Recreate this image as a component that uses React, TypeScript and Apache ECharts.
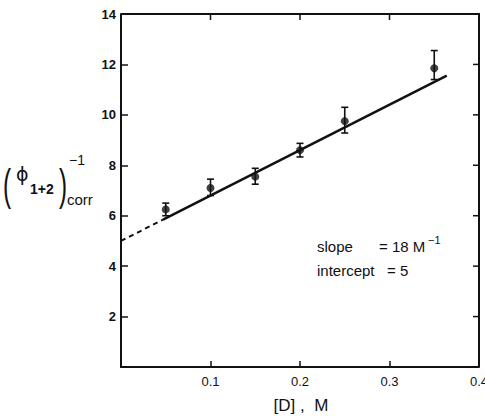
import React, { useEffect, useRef } from "react";
import * as echarts from "echarts";

// Data
const concD = [0.05, 0.1, 0.15, 0.2, 0.25, 0.35];
const phiInv = [6.25, 7.1, 7.55, 8.6, 9.75, 11.85];
const errLow = [6.0, 6.8, 7.25, 8.33, 9.28, 11.4];
const errHigh = [6.5, 7.45, 7.88, 8.87, 10.3, 12.55];

const slope = 18;
const intercept = 5;
const fitDashedX = [0, 0.047];
const fitSolidX = [0.047, 0.364];

const xTicks = [0, 0.1, 0.2, 0.3, 0.4];
const yTicks = [0, 2, 4, 6, 8, 10, 12, 14];

const FONT = "Liberation Sans";

const GRID = { left: 121, right: 6, top: 14, bottom: 51 };
const W = 485;
const H = 418;

export default function App() {
  const ref = useRef<HTMLDivElement>(null);
  useEffect(() => {
    document.body.style.margin = "0";
    const chart = echarts.init(ref.current!, null, { renderer: "svg" });
    const fit = (xs: number[]) => xs.map((x) => [x, intercept + slope * x]);
    const xMin = xTicks[0];
    const xMax = xTicks[xTicks.length - 1];
    const yMin = yTicks[0];
    const yMax = yTicks[yTicks.length - 1];
    const tickStyle = { stroke: "#111", lineWidth: 1.5 };
    const option: any = {
      animation: false,
      grid: {
        ...GRID,
        containLabel: false,
        outerBoundsMode: "none",
      },
      xAxis: {
        type: "value",
        min: xMin,
        max: xMax,
        interval: 0.1,
        position: "bottom",
        axisLine: { show: true, onZero: false, lineStyle: { color: "#111", width: 2 } },
        axisTick: { show: true, inside: true, length: 6, lineStyle: { color: "#111", width: 1.5 } },
        splitLine: { show: false },
        axisLabel: {
          color: "#111",
          fontFamily: FONT,
          fontSize: 13,
          margin: 8,
          formatter: (v: number) => (v === 0 ? "" : v.toFixed(1)),
        },
      },
      yAxis: {
        type: "value",
        min: yMin,
        max: yMax,
        interval: 2,
        position: "left",
        axisLine: { show: true, onZero: false, lineStyle: { color: "#111", width: 2 } },
        axisTick: { show: true, inside: true, length: 7, lineStyle: { color: "#111", width: 1.5 } },
        splitLine: { show: false },
        axisLabel: {
          color: "#111",
          fontFamily: FONT,
          fontWeight: "bold",
          fontSize: 13,
          margin: 5,
          formatter: (v: number) => (v === 0 ? "" : String(v)),
        },
      },
      series: [
        {
          type: "line",
          data: fit(fitDashedX),
          showSymbol: false,
          symbol: "none",
          lineStyle: { color: "#111", width: 2, type: [5, 4] },
        },
        {
          type: "line",
          data: fit(fitSolidX),
          showSymbol: false,
          symbol: "none",
          lineStyle: { color: "#111", width: 2.5 },
        },
        // ticks on the top and right sides of the frame (inward)
        {
          type: "custom",
          clip: false,
          silent: true,
          data: [[0.2, 7]],
          encode: { x: 0, y: 1 },
          renderItem: (params: any, api: any) => {
            const children: any[] = [];
            xTicks.slice(1, -1).forEach((x) => {
              const p = api.coord([x, yMax]);
              children.push({ type: "line", shape: { x1: p[0], y1: p[1], x2: p[0], y2: p[1] + 6 }, style: tickStyle });
            });
            yTicks.slice(1, -1).forEach((y) => {
              const p = api.coord([xMax, y]);
              children.push({ type: "line", shape: { x1: p[0] - 6, y1: p[1], x2: p[0], y2: p[1] }, style: tickStyle });
            });
            return { type: "group", children };
          },
          z: 5,
        },
        // error bars
        {
          type: "custom",
          data: concD.map((x, i) => [x, errLow[i], errHigh[i]]),
          encode: { x: 0, y: [1, 2] },
          renderItem: (params: any, api: any) => {
            const x = api.value(0);
            const lo = api.coord([x, api.value(1)]);
            const hi = api.coord([x, api.value(2)]);
            const w = 3.5;
            const st = { stroke: "#111", lineWidth: 1.6 };
            return {
              type: "group",
              children: [
                { type: "line", shape: { x1: lo[0], y1: lo[1], x2: hi[0], y2: hi[1] }, style: st },
                { type: "line", shape: { x1: lo[0] - w, y1: lo[1], x2: lo[0] + w, y2: lo[1] }, style: st },
                { type: "line", shape: { x1: hi[0] - w, y1: hi[1], x2: hi[0] + w, y2: hi[1] }, style: st },
              ],
            };
          },
          z: 3,
        },
        {
          type: "scatter",
          data: concD.map((x, i) => [x, phiInv[i]]),
          symbol: "circle",
          symbolSize: 8,
          itemStyle: { color: "#111" },
          z: 4,
        },
      ],
      graphic: [
        // plot frame (top and right sides)
        {
          type: "polyline",
          z: 100,
          shape: { points: [[GRID.left, GRID.top], [W - GRID.right, GRID.top], [W - GRID.right, H - GRID.bottom]] },
          style: { stroke: "#111", lineWidth: 2, fill: "none" },
        },
        // y-axis title: (ϕ1+2)corr^-1
        { type: "text", x: 3, y: 185, scaleX: 0.55, style: { text: "(", font: `44px '${FONT}'`, fill: "#111", verticalAlign: "middle" } },
        { type: "text", x: 16, y: 174, style: { text: "ϕ", font: `19px 'DejaVu Sans'`, fill: "#111", verticalAlign: "middle" } },
        { type: "text", x: 30, y: 189, style: { text: "1+2", font: `bold 14px '${FONT}'`, fill: "#111", verticalAlign: "middle" } },
        { type: "text", x: 59, y: 185, scaleX: 0.55, style: { text: ")", font: `44px '${FONT}'`, fill: "#111", verticalAlign: "middle" } },
        { type: "text", x: 67, y: 199, style: { text: "corr", font: `15px '${FONT}'`, fill: "#111", verticalAlign: "middle" } },
        { type: "text", x: 69, y: 160, style: { text: "−1", font: `14px '${FONT}'`, fill: "#111", verticalAlign: "middle" } },
        // x-axis title
        { type: "text", x: 301, y: 405, style: { text: "[D] ,  M", font: `17px '${FONT}'`, fill: "#111", align: "center", verticalAlign: "middle" } },
        // annotation
        { type: "text", x: 317, y: 246, style: { text: "slope", font: `15px '${FONT}'`, fill: "#111", verticalAlign: "middle" } },
        { type: "text", x: 379, y: 246, style: { text: "= 18 M", font: `15px '${FONT}'`, fill: "#111", verticalAlign: "middle" } },
        { type: "text", x: 428, y: 240, style: { text: "−1", font: `11px '${FONT}'`, fill: "#111", verticalAlign: "middle" } },
        { type: "text", x: 317, y: 270, style: { text: "intercept", font: `15px '${FONT}'`, fill: "#111", verticalAlign: "middle" } },
        { type: "text", x: 387, y: 270, style: { text: "= 5", font: `15px '${FONT}'`, fill: "#111", verticalAlign: "middle" } },
      ],
    };
    chart.setOption(option);
    return () => chart.dispose();
  }, []);
  return <div ref={ref} style={{ width: W, height: H, background: "#fff" }} />;
}
